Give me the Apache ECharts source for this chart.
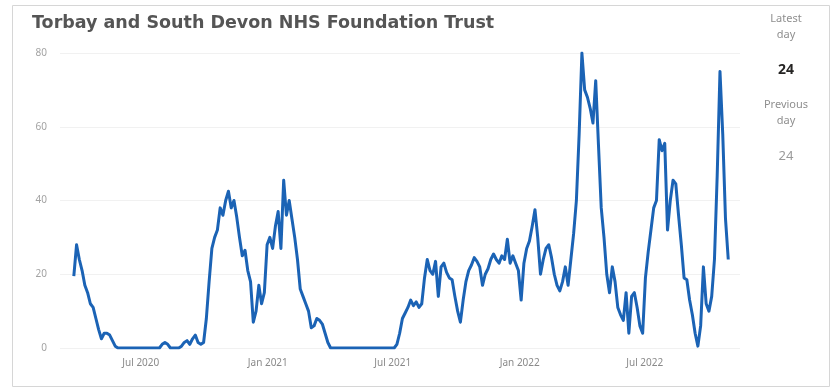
<!DOCTYPE html>
<html>
<head>
<meta charset="utf-8">
<script src="https://cdn.jsdelivr.net/npm/echarts@6/dist/echarts.min.js"></script>
<style>
  html, body { margin: 0; padding: 0; background: #ffffff; }
  #chart { width: 832px; height: 389px; }
</style>
</head>
<body>
<div id="chart"></div>
<script>
// Daily bed occupancy series, one reading every 4 days from the first date
const seriesStart = '2020-03-26';
const stepDays = 4;
const occupancy = [
  19.5, 28, 24, 21, 17, 15, 12, 11, 8, 5,
  2.5, 4, 4, 3.5, 2, 0.5, 0, 0, 0, 0,
  0, 0, 0, 0, 0, 0, 0, 0, 0, 0,
  0, 0, 1, 1.5, 1, 0, 0, 0, 0, 0.5,
  1.5, 2, 1, 2.5, 3.5, 1.5, 1, 1.5, 8, 18,
  27, 30, 32, 38, 36, 40, 42.5, 38, 40, 35.5,
  30, 25, 26.5, 21, 18, 7, 10, 17, 12, 15,
  28, 30, 27, 33, 37, 27, 45.5, 36, 40, 35,
  30, 24, 16, 14, 12, 10, 5.5, 6, 8, 7.5,
  6.5, 4, 1.5, 0, 0, 0, 0, 0, 0, 0,
  0, 0, 0, 0, 0, 0, 0, 0, 0, 0,
  0, 0, 0, 0, 0, 0, 0, 1, 4, 8,
  9.5, 11, 13, 11.5, 12.5, 11, 12, 19, 24, 21,
  20, 23.5, 14, 22, 23, 20.5, 19, 18.5, 14, 10,
  7, 13, 18, 21, 22.5, 24.5, 23.5, 22, 17, 20,
  21.5, 24, 25.5, 24, 23, 25, 24, 29.5, 23, 25,
  23, 21, 13, 23, 27, 29, 33, 37.5, 30, 20,
  24, 27, 28, 24.5, 20, 17, 15.5, 18, 22, 17,
  24, 31, 40, 58, 80, 70, 68, 65, 61, 72.5,
  55, 38, 30, 20, 15, 22, 18, 11, 9, 7.5,
  15, 4, 14, 15, 11, 6, 4, 19, 26, 32,
  38, 40, 56.5, 53.5, 55.5, 32, 40, 45.5, 44.5, 36,
  28, 19, 18.5, 13, 9, 4, 0.5, 6, 22, 12,
  10, 14, 24, 47, 75, 58, 35, 24
];

// Axis ticks shown along the bottom
const xTickDates = ['2020-07-01', '2021-01-01', '2021-07-01', '2022-01-01', '2022-07-01'];
const xTickLabels = ['Jul 2020', 'Jan 2021', 'Jul 2021', 'Jan 2022', 'Jul 2022'];
const xRange = ['2020-03-06', '2022-11-16'];
const yTicks = [0, 20, 40, 60, 80];

// Summary card values
const latestDay = 24;
const previousDay = 24;
const chartTitle = 'Torbay and South Devon NHS Foundation Trust';

const DAY = 86400000;
const toDayNum = d => Date.parse(d + 'T00:00:00Z') / DAY;
const d0 = toDayNum(seriesStart);
const points = occupancy.map((v, i) => [d0 + i * stepDays, v]);
const tickDays = xTickDates.map(toDayNum);
const labelFor = {};
tickDays.forEach((t, i) => { labelFor[t] = xTickLabels[i]; });

const FONT = '"Noto Sans", "Open Sans", sans-serif';
const TITLE_FONT = '"DejaVu Sans", "Noto Sans", sans-serif';

const chart = echarts.init(document.getElementById('chart'), null, { renderer: 'canvas' });
chart.setOption({
  animation: false,
  backgroundColor: '#ffffff',
  title: {
    text: chartTitle,
    left: 27,
    top: 9,
    textStyle: { fontFamily: TITLE_FONT, fontSize: 17.5, fontWeight: 'bold', color: '#555555' }
  },
  grid: { left: 60, right: 92, top: 53, bottom: 41, containLabel: false },
  xAxis: {
    type: 'value',
    min: toDayNum(xRange[0]),
    max: toDayNum(xRange[1]),
    axisLine: { show: false },
    axisTick: { show: false },
    splitLine: { show: false },
    axisLabel: {
      customValues: tickDays,
      formatter: v => labelFor[v] || '',
      color: '#8a8a8a',
      fontFamily: FONT,
      fontSize: 10,
      margin: 10
    }
  },
  yAxis: {
    type: 'value',
    min: yTicks[0],
    max: yTicks[yTicks.length - 1],
    interval: 20,
    axisLine: { show: false },
    axisTick: { show: false },
    splitLine: { show: true, lineStyle: { color: '#f1f1f1', width: 1 } },
    axisLabel: { color: '#a3a3a3', fontFamily: FONT, fontSize: 10, margin: 13 }
  },
  series: [{
    type: 'line',
    data: points,
    showSymbol: false,
    symbol: 'none',
    lineStyle: { color: '#1b63b5', width: 3, join: 'round' },
    itemStyle: { color: '#1b63b5' }
  }],
  graphic: [
    {
      type: 'rect', silent: true, z: -1,
      shape: { x: 12.5, y: 5.5, width: 817, height: 381 },
      style: { fill: 'none', stroke: '#d6d6d6', lineWidth: 1 }
    },
    {
      type: 'text',
      style: { text: 'Latest\nday', x: 786, y: 11, textAlign: 'center', fill: '#8f8f8f', font: '11px ' + FONT, lineHeight: 16 }
    },
    {
      type: 'text',
      style: { text: String(latestDay), x: 786, y: 63, textAlign: 'center', fill: '#252423', font: 'bold 14px ' + FONT }
    },
    {
      type: 'text',
      style: { text: 'Previous\nday', x: 786, y: 97, textAlign: 'center', fill: '#8f8f8f', font: '11px ' + FONT, lineHeight: 16 }
    },
    {
      type: 'text',
      style: { text: String(previousDay), x: 786, y: 150, textAlign: 'center', fill: '#9a9a9a', font: '13px ' + FONT }
    }
  ]
});
</script>
</body>
</html>
